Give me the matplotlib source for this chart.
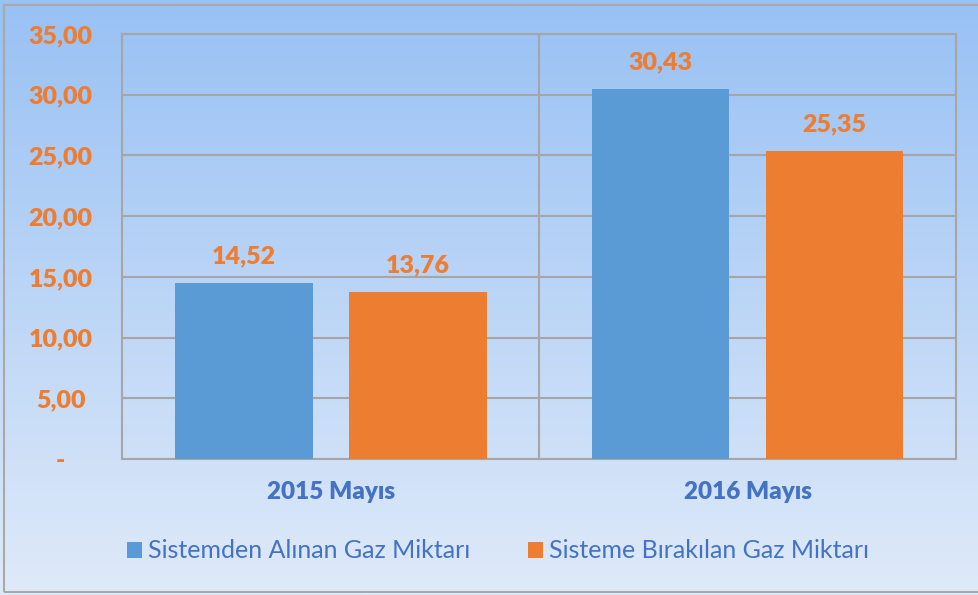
import numpy as np
import matplotlib.pyplot as plt
from matplotlib.patches import Rectangle

plt.rcParams['font.family'] = ['Lato', 'DejaVu Sans']

categories = ['2015 Mayıs', '2016 Mayıs']
series_names = ['Sistemden Alınan Gaz Miktarı', 'Sisteme Bırakılan Gaz Miktarı']
alinan = [14.52, 30.43]
birakilan = [13.76, 25.35]
yticks = [0, 5, 10, 15, 20, 25, 30, 35]

blue = '#5B9BD5'
orange = '#ED7D31'
text_blue = '#4472C4'
grid_col = '#A6A6A6'
heavy = 'heavy'

W, H = 979, 595
fig = plt.figure(figsize=(W / 100, H / 100), dpi=100)

# gradient background for the whole figure
bg = fig.add_axes([0, 0, 1, 1], zorder=-10)
grad = np.linspace(0, 1, 256).reshape(-1, 1)
top = np.array([0x98, 0xC1, 0xF4]) / 255
bot = np.array([0xDF, 0xEA, 0xF9]) / 255
img = top + (bot - top) * grad[:, :, None]
bg.imshow(img, aspect='auto', extent=[0, 1, 0, 1], origin='upper')
bg.add_patch(Rectangle((4.5 / W, 3 / H), 1.0, 1 - 7.5 / H, fill=False,
                       edgecolor='#A9A9A9', linewidth=1.5, transform=bg.transAxes))
bg.set_xlim(0, 1)
bg.set_ylim(0, 1)
bg.axis('off')

left, right, ytop, ybot = 122.5, 956, 34, 459
ax = fig.add_axes([left / W, 1 - ybot / H, (right - left) / W, (ybot - ytop) / H])
ax.patch.set_alpha(0)

x = np.arange(len(categories))
off = 0.209
width = 0.33
ax.bar(x - off, alinan, width, color=blue, label=series_names[0], zorder=3)
ax.bar(x + off, birakilan, width, color=orange, label=series_names[1], zorder=3)

for xi, v in zip(x - off, alinan):
    ax.text(xi, v + 2.2, f'{v:.2f}'.replace('.', ','), ha='center', va='center',
            color=orange, fontsize=18, fontweight=heavy)
for xi, v in zip(x + off, birakilan):
    ax.text(xi, v + 2.2, f'{v:.2f}'.replace('.', ','), ha='center', va='center',
            color=orange, fontsize=18, fontweight=heavy)

ax.set_xlim(-0.5, 1.5)
ax.set_ylim(0, 35)
ax.set_yticks(yticks)
ax.set_yticklabels(['-' if t == 0 else f'{t:.2f}'.replace('.', ',') for t in yticks],
                   color=orange, fontsize=18, fontweight=heavy)
ax.set_xticks(x)
ax.set_xticklabels(categories, color=text_blue, fontsize=17.5, fontweight=heavy)
ax.tick_params(axis='y', length=0, pad=44.5)
ax.tick_params(axis='x', length=0, pad=16)
for lab in ax.get_yticklabels():
    lab.set_horizontalalignment('center')

ax.yaxis.grid(True, color=grid_col, linewidth=1.5, zorder=0)
ax.axvline(0.5, color=grid_col, linewidth=1.5, zorder=0)
for s in ax.spines.values():
    s.set_color(grid_col)
    s.set_linewidth(1.5)

leg = fig.legend(loc='center', bbox_to_anchor=(0.509, 1 - 551 / H), ncol=2, frameon=False,
                 fontsize=18, handlelength=0.6, handleheight=0.6, handletextpad=0.25,
                 columnspacing=2.3)
for t in leg.get_texts():
    t.set_color(text_blue)

fig.savefig('out.png', dpi=100)
